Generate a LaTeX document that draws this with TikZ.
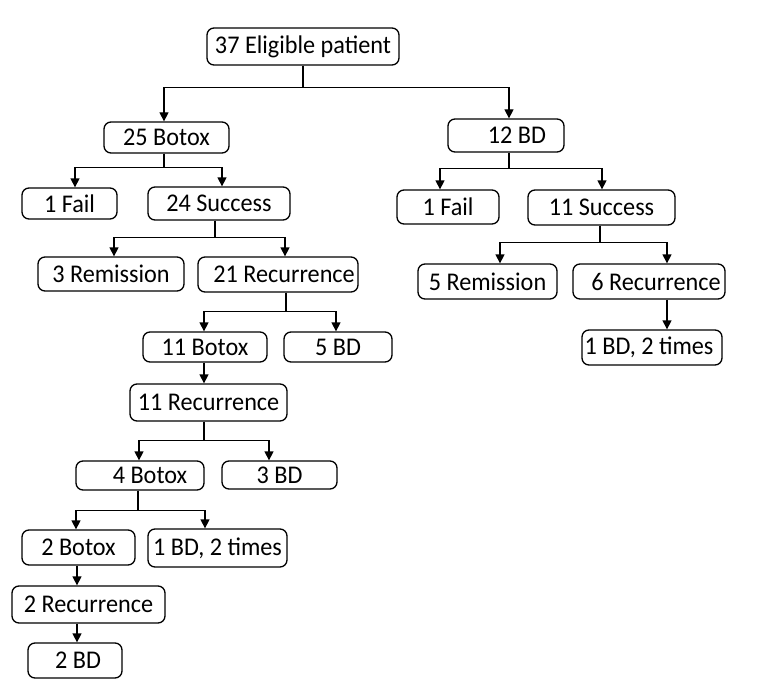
\documentclass[tikz,border=0pt]{standalone}
\usepackage{fontspec}
\setmainfont[FakeStretch=0.95]{Carlito}
\usetikzlibrary{arrows.meta}
\begin{document}
\begin{tikzpicture}[x=1pt,y=-1pt,
  box/.style={draw, rounded corners=7pt, line width=1.3pt, inner sep=0pt,
    font=\fontsize{25.5}{28}\selectfont},
  arr/.style={line width=1.3pt, -{Triangle[length=9pt,width=9pt]}}]
\useasboundingbox (0,0) rectangle (762,690);
\fill[white] (0,0) rectangle (762,690);
% boxes
\node[box, minimum width=192pt, minimum height=37pt] (top) at (303,46.5) {37 Eligible patient};
\node[box, minimum width=125pt, minimum height=31pt] (b25) at (166.5,137.5) {25 Botox};
\node[box, minimum width=116pt, minimum height=33pt] (bd12) at (506,135.5) {\hspace*{22pt}12 BD};
\node[box, minimum width=95pt, minimum height=31pt] (fail1) at (69.5,203.5) {1 Fail};
\node[box, minimum width=142pt, minimum height=33pt] (succ24) at (219,203.5) {24 Success};
\node[box, minimum width=102pt, minimum height=34pt] (fail1r) at (448,207) {1 Fail};
\node[box, minimum width=147pt, minimum height=35pt] (succ11) at (601.5,207.5) {11 Success};
\node[box, minimum width=146pt, minimum height=34pt] (rem3) at (111,274) {3 Remission};
\node[box, minimum width=160pt, minimum height=35pt] (rec21) at (278,274.5) {\hspace*{12pt}21 Recurrence};
\node[box, minimum width=139pt, minimum height=35pt] (rem5) at (487.5,281.5) {5 Remission};
\node[box, minimum width=152pt, minimum height=35pt] (rec6) at (649,281.5) {\hspace*{14pt}6 Recurrence};
\node[box, minimum width=140pt, minimum height=35pt] (bdt1r) at (652,347.5) {1 BD, 2 times\hspace*{6pt}};
\node[box, minimum width=124pt, minimum height=30pt] (bot11) at (205,347) {11 Botox};
\node[box, minimum width=108pt, minimum height=30pt] (bd5) at (338,347) {5 BD};
\node[box, minimum width=157pt, minimum height=37pt] (rec11) at (208.5,402.5) {11 Recurrence};
\node[box, minimum width=128pt, minimum height=29pt] (bot4) at (140,475.5) {\hspace*{20pt}4 Botox};
\node[box, minimum width=115pt, minimum height=28pt] (bd3) at (279.5,475) {3 BD};
\node[box, minimum width=113pt, minimum height=35pt] (bot2) at (78.5,547.5) {2 Botox};
\node[box, minimum width=139pt, minimum height=38pt] (bdt1) at (217.5,548) {1 BD, 2 times};
\node[box, minimum width=153pt, minimum height=37pt] (rec2) at (88.5,604.5) {2 Recurrence};
\node[box, minimum width=94pt, minimum height=35pt] (bd2) at (75,660.5) {\hspace*{6pt}2 BD};
% connectors
\draw[arr] (top.south) -- ++(0,22) -| ([xshift=-2.5pt]b25.north);
\draw[arr] (top.south) -- ++(0,22) -| ([xshift=3pt]bd12.north);
\draw[arr] ([xshift=-2.5pt]b25.south) -- ++(0,14) -| ([xshift=5.5pt]fail1.north);
\draw[arr] ([xshift=-2.5pt]b25.south) -- ++(0,14) -| ([xshift=3pt]succ24.north);
\draw[arr] ([xshift=3pt]bd12.south) -- ++(0,16) -| ([xshift=-8pt]fail1r.north);
\draw[arr] ([xshift=3pt]bd12.south) -- ++(0,16) -| ([xshift=0.5pt]succ11.north);
\draw[arr] ([xshift=-4pt]succ24.south) -- ++(0,17) -| ([xshift=3pt]rem3.north);
\draw[arr] ([xshift=-4pt]succ24.south) -- ++(0,17) -| ([xshift=7pt]rec21.north);
\draw[arr] ([xshift=-1.5pt]succ11.south) -- ++(0,17) -| ([xshift=12.5pt]rem5.north);
\draw[arr] ([xshift=-1.5pt]succ11.south) -- ++(0,17) -| ([xshift=18pt]rec6.north);
\draw[arr] ([xshift=18pt]rec6.south) -- ([xshift=18pt]rec6.south |- bdt1r.north);
\draw[arr] ([xshift=8pt]rec21.south) -- ++(0,19) -| ([xshift=-1pt]bot11.north);
\draw[arr] ([xshift=8pt]rec21.south) -- ++(0,19) -| ([xshift=-2pt]bd5.north);
\draw[arr] ([xshift=-1pt]bot11.south) -- ([xshift=-1pt]bot11.south |- rec11.north);
\draw[arr] ([xshift=-4.5pt]rec11.south) -- ++(0,19) -| ([xshift=-1pt]bot4.north);
\draw[arr] ([xshift=-4.5pt]rec11.south) -- ++(0,19) -| ([xshift=-10.5pt]bd3.north);
\draw[arr] ([xshift=-2pt]bot4.south) -- ++(0,20) -| ([xshift=-2.5pt]bot2.north);
\draw[arr] ([xshift=-2pt]bot4.south) -- ++(0,20) -| ([xshift=-12.5pt]bdt1.north);
\draw[arr] ([xshift=-1.5pt]bot2.south) -- ([xshift=-1.5pt]bot2.south |- rec2.north);
\draw[arr] ([xshift=-11.5pt]rec2.south) -- ([xshift=-11.5pt]rec2.south |- bd2.north);
\end{tikzpicture}
\end{document}
